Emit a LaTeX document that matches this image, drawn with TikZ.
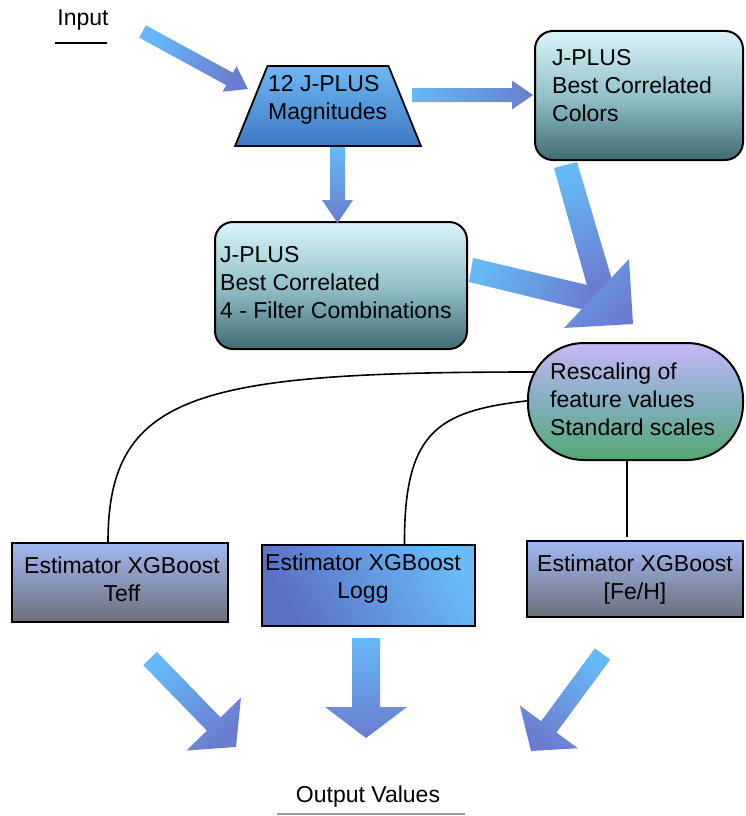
\documentclass[tikz,border=0pt]{standalone}
\usepackage{fontspec}
\setmainfont{Liberation Sans}
\usetikzlibrary{calc,shapes.geometric,backgrounds}

\definecolor{arL}{HTML}{66B9F6}
\definecolor{arD}{HTML}{6A7CCF}
\definecolor{tealT}{HTML}{DAF4F8}
\definecolor{tealM}{HTML}{93C2C8}
\definecolor{tealB}{HTML}{3E6C72}
\definecolor{trapT}{HTML}{6DB8F4}
\definecolor{trapB}{HTML}{3E79C4}
\definecolor{resT}{HTML}{C6B8F5}
\definecolor{resM}{HTML}{83AFC0}
\definecolor{resB}{HTML}{52A86E}
\definecolor{estT}{HTML}{A2B8F2}
\definecolor{estB}{HTML}{6C707A}
\definecolor{logD}{HTML}{5B6FC3}
\definecolor{logL}{HTML}{68BAF8}

% #1 start, #2 tip, #3 shaft half width, #4 head half width, #5 head length, #6 shading angle
\newcommand\blockarrow[6]{%
  \coordinate (ba-hb) at ($(#2)!#5!(#1)$);
  \shade[arrowfill, shading angle=#6]
    ($(#1)!#3!90:(#2)$) -- ($(ba-hb)!#3!-90:(#1)$) -- ($(ba-hb)!#4!-90:(#1)$) -- (#2)
    -- ($(ba-hb)!#4!90:(#1)$) -- ($(ba-hb)!#3!90:(#1)$) -- ($(#1)!#3!-90:(#2)$) -- cycle;
}

\begin{document}
\begin{tikzpicture}[x=1pt,y=-1pt,
  txt/.style={font=\fontsize{23}{28}\selectfont, inner sep=0pt, text=black},
  arrowfill/.style={top color=arL, bottom color=arD},
  tealbox/.style={draw=black, line width=2pt, rounded corners=18pt,
    top color=tealT, bottom color=tealB, middle color=tealM},
  estbox/.style={draw=black, line width=2.4pt, top color=estT, bottom color=estB},
  conn/.style={draw=black, line width=1.6pt}
]
\useasboundingbox (0,0) rectangle (745,816);

% ---- nodes ----
\node[trapezium, draw=black, line width=1.8pt, trapezium stretches=true,
      trapezium angle=75, minimum width=186pt, minimum height=80pt,
      top color=trapT, bottom color=trapB] (mag) at (328,106) {};
\node[tealbox, minimum width=208pt, minimum height=129pt] (colors) at (639,95.5) {};
\node[tealbox, minimum width=252pt, minimum height=127pt] (combos) at (341,285.5) {};
\node[draw=black, line width=2pt, rounded corners=56pt, minimum width=215pt,
      minimum height=117pt, top color=resT, bottom color=resB, middle color=resM]
      (rescale) at (635.5,401.5) {};
\node[estbox, minimum width=216pt, minimum height=79pt] (teff) at (120,582.5) {};
\node[draw=black, line width=2.4pt, minimum width=213pt, minimum height=81pt,
      left color=logD, right color=logL, shading angle=120] (logg) at (368.5,585.5) {};
\node[estbox, minimum width=216pt, minimum height=76pt] (feh) at (635,579) {};

% ---- texts ----
\node[txt] (input) at (83,20) {Input};
\draw[line width=1.8pt] (55,43) -- (107,43);
\node[txt, anchor=west, align=left] (mag-t) at (268,100) {12 J-PLUS\\Magnitudes};
\node[txt, anchor=west, align=left] (colors-t) at (552,85.5) {J-PLUS\\Best Correlated\\Colors};
\node[txt, anchor=west, align=left] (combos-t) at (220,282.5) {J-PLUS\\Best Correlated\\4 - Filter Combinations};
\node[txt, anchor=west, align=left] (rescale-t) at (550,399) {Rescaling of\\feature values\\Standard scales};
\node[txt, align=center] (teff-t) at (122,579) {Estimator XGBoost\\Teff};
\node[txt, anchor=west, align=center] (logg-t) at (265,579) {Estimator XGBoost\\Logg};
\node[txt, align=center] (feh-t) at (635,580) {Estimator XGBoost\\{}[Fe/H]};
\node[txt] (out) at (368,797) {Output Values};
\draw[line width=1.5pt, draw=black!40] (277,814) -- (465,814);

% ---- connectors ----
\begin{scope}[on background layer]
  \draw[conn] ($(rescale.west)+(8,-29.5)$) .. controls (200,372) and (108,392) .. ($(teff.north)+(-12,0)$);
  \draw[conn] ($(rescale.west)+(8,-1.5)$) .. controls (440,410) and (404,428) .. ($(logg.north)+(36,0)$);
  \draw[conn] ($(rescale.south)+(-8.5,0)$) -- ($(feh.north)+(-8,-3)$);
\end{scope}

% ---- block arrows ----
\coordinate (in-s) at (142.5,31.5);
\coordinate (in-e) at (248,89);
\blockarrow{in-s}{in-e}{7pt}{14.5pt}{21pt}{61}

\coordinate (mc-s) at (412,95);
\coordinate (mc-e) at (533,95);
\blockarrow{mc-s}{mc-e}{7pt}{14.5pt}{21pt}{90}

\coordinate (md-s) at (337.5,147);
\coordinate (md-e) at (337.5,223);
\blockarrow{md-s}{md-e}{7.5pt}{15.5pt}{23pt}{0}

% merged arrow from colors and combos into rescaling
\coordinate (cs-a) at (554,168);
\coordinate (cs-b) at (577,162);
\coordinate (cs-c) at (615,290);
\coordinate (cs-d) at (590,296);
\coordinate (bs-a) at (473,258);
\coordinate (bs-b) at (600,288);
\coordinate (bs-c) at (597,313);
\coordinate (bs-d) at (469,282);
\coordinate (hd-a) at (629,259);
\coordinate (hd-b) at (633,324);
\coordinate (hd-c) at (564,328);
\shade[arrowfill, shading angle=20] (cs-a) -- (cs-b) -- (cs-c) -- (cs-d) -- cycle;
\shade[arrowfill, shading angle=75] (bs-a) -- (bs-b) -- (bs-c) -- (bs-d) -- cycle;
\shade[top color=arL!60!arD, bottom color=arD, shading angle=45] (hd-a) -- (hd-b) -- (hd-c) -- cycle;

% lower arrows to output
\coordinate (la-s) at (150,658.5);
\coordinate (la-e) at (236,747);
\blockarrow{la-s}{la-e}{9.5pt}{38pt}{32pt}{44}

\coordinate (ca-s) at (366,638);
\coordinate (ca-e) at (366,738);
\blockarrow{ca-s}{ca-e}{14pt}{41pt}{31pt}{0}

\coordinate (ra-s) at (602.5,654);
\coordinate (ra-e) at (531,751);
\blockarrow{ra-s}{ra-e}{9.5pt}{36pt}{30pt}{-36}
\end{tikzpicture}
\end{document}
